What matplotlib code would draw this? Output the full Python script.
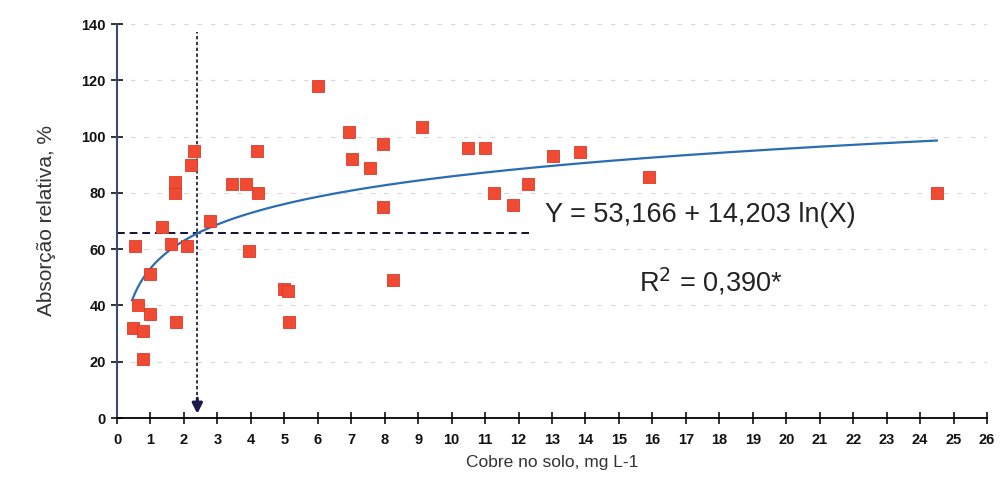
import numpy as np
import matplotlib.pyplot as plt

plt.rcParams['font.family'] = ['Liberation Sans', 'DejaVu Sans']

# Cobre no solo (mg L-1) x absorção relativa (%)
cobre = [0.49, 0.54, 0.64, 0.79, 0.79, 0.99, 0.99, 1.34, 1.60, 1.74, 1.74,
         1.76, 2.08, 2.20, 2.31, 2.78, 3.45, 3.85, 3.95, 4.18, 4.20, 5.00,
         5.10, 5.13, 6.00, 6.93, 7.03, 7.57, 7.95, 7.95, 8.25, 9.12, 10.50,
         11.00, 11.27, 11.82, 12.29, 13.04, 13.83, 15.90, 24.52]
absorcao = [32, 61, 40, 31, 21, 51, 37, 68, 62, 80, 84,
            34, 61, 90, 95, 70, 83, 83, 59.5, 95, 80, 46,
            45, 34, 118, 101.5, 92, 88.7, 97.4, 75, 49, 103.5, 96,
            96, 80, 75.7, 83, 93, 94.4, 85.8, 79.8]

a, b = 53.166, 14.203
x_crit, y_crit = 2.4, 65.6

fig = plt.figure(figsize=(10.01, 4.98), dpi=100)
ax = fig.add_axes([117 / 1001, 80 / 498, 870 / 1001, 394 / 498])

# faint grid
for yg in range(20, 141, 20):
    ax.axhline(yg, color='#d8d8d8', lw=0.8, ls=(0, (4, 8)), zorder=0)

# fitted curve
xf = np.linspace(0.45, 24.5, 300)
ax.plot(xf, a + b * np.log(xf), color='#2a6db0', lw=1.6, zorder=3)

ax.plot(cobre, absorcao, 's', color='#f04a32', markersize=8.5,
        markeredgecolor='#d83a28', markeredgewidth=0.6, zorder=4)

# critical level lines
ax.plot([0, 12.3], [y_crit, y_crit], color='#111133', lw=1.4,
        ls=(0, (4, 2.5)), zorder=2)
ax.plot([x_crit, x_crit], [6, 137], color='#111133', lw=1.2,
        ls=(0, (2, 1.5)), zorder=2)
ax.annotate('', xy=(x_crit, 0.5), xytext=(x_crit, 8),
            arrowprops=dict(arrowstyle='-|>', color='#1a1a4a', lw=2.2,
                            mutation_scale=15), zorder=5)

ax.text(12.8, 72, 'Y = 53,166 + 14,203 ln(X)', fontsize=19.5, va='center',
        color='#222222')
ax.text(15.6, 48.5, 'R$^2$ = 0,390*', fontsize=19.5, va='center',
        color='#222222')

ax.set_xlim(0, 26)
ax.set_ylim(0, 140)
ax.set_xticks(range(0, 27))
ax.set_yticks(range(0, 141, 20))
ax.tick_params(direction='inout', length=9, width=1.2, labelsize=10.5,
               colors='#111111')
ax.tick_params(axis='x', pad=6)
for lbl in ax.get_xticklabels() + ax.get_yticklabels():
    lbl.set_fontweight('bold')

for side in ('top', 'right'):
    ax.spines[side].set_visible(False)
ax.spines['left'].set_color('#3a4a70')
ax.spines['left'].set_linewidth(1.5)
ax.spines['bottom'].set_linewidth(1.3)

ax.set_xlabel('Cobre no solo, mg L-1', fontsize=12.5, labelpad=6,
              color='#333333')
ax.set_ylabel('Absorção relativa, %', fontsize=15, labelpad=18,
              color='#333333')

fig.savefig('out.png', dpi=100)
